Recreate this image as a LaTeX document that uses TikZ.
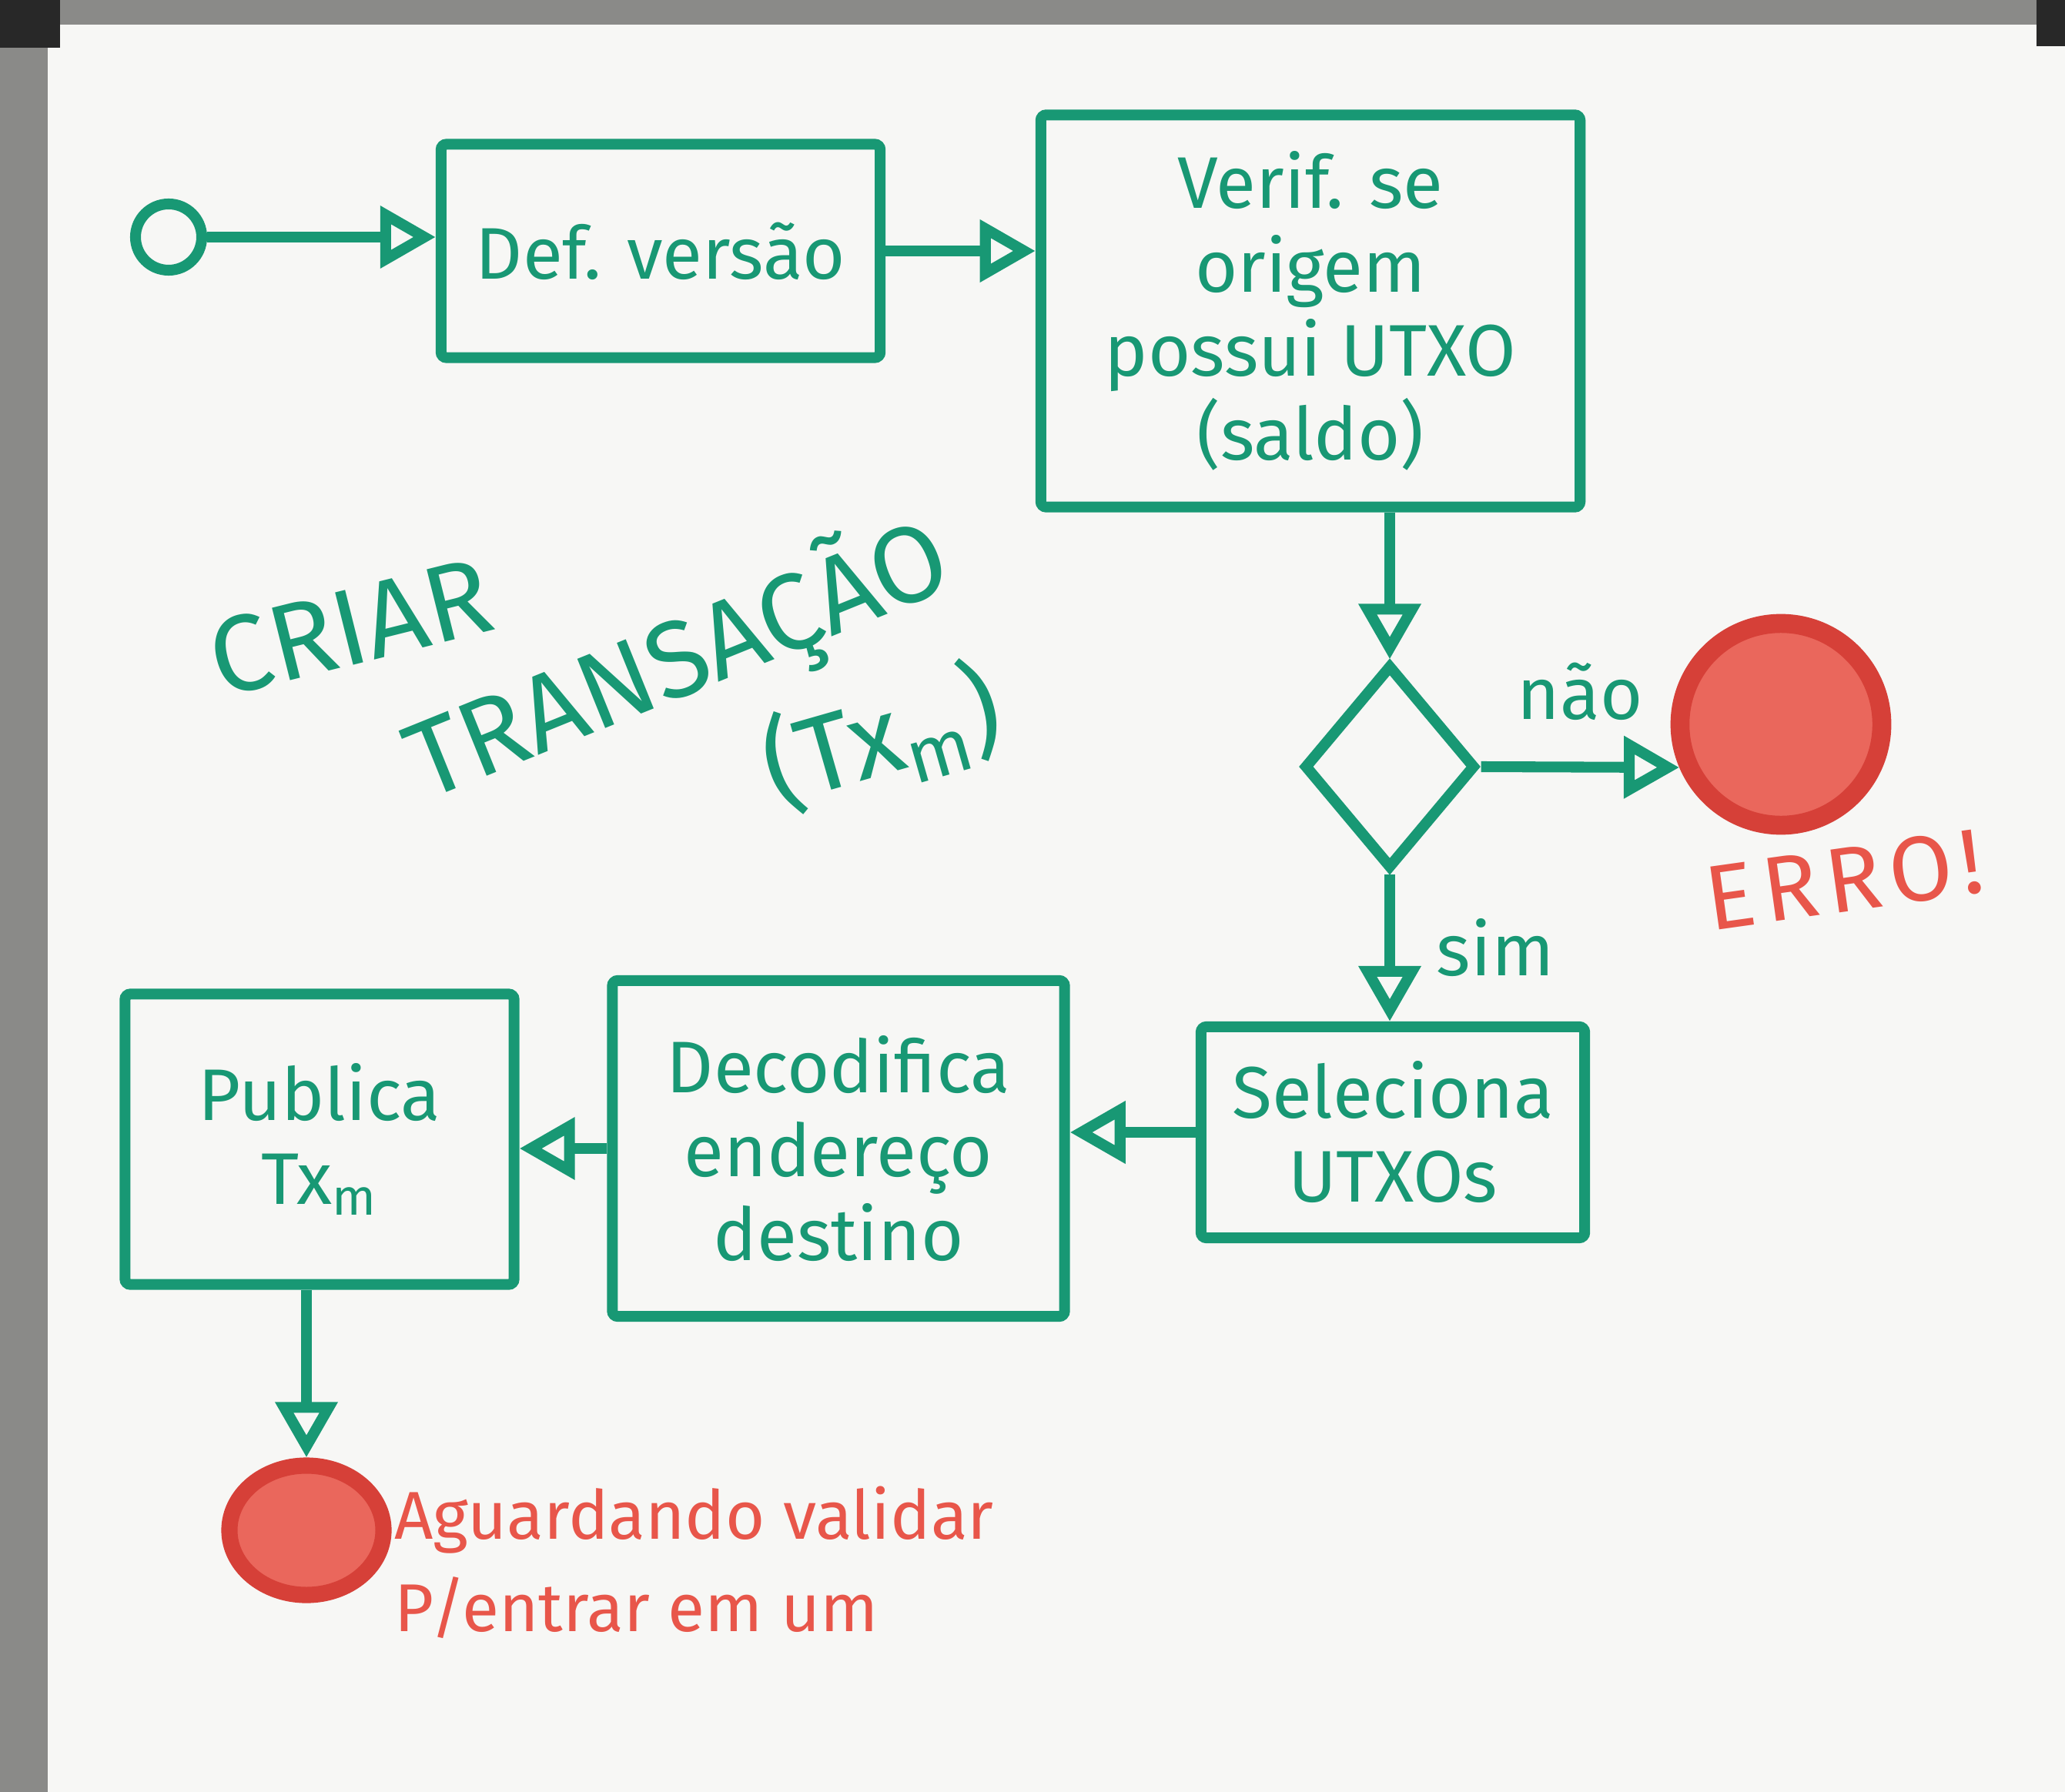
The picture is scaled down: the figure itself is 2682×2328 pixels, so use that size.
\documentclass[tikz,border=0pt]{standalone}
\usepackage{fontspec}
\setmainfont{Fira Sans}
\usetikzlibrary{arrows.meta,positioning,calc,shapes.geometric}
\definecolor{greenM}{RGB}{24,152,116}
\definecolor{redM}{RGB}{232,86,74}
\definecolor{redD}{RGB}{214,64,56}
\definecolor{boardW}{RGB}{247,247,245}
\definecolor{frameG}{RGB}{138,138,136}
\definecolor{frameD}{RGB}{40,40,40}
\newcommand{\boxfont}{\fontsize{27}{31}\selectfont}
\newcommand{\titlefont}{\fontsize{40}{46}\selectfont}
\newcommand{\notefont}{\fontsize{25}{34}\selectfont}
\tikzset{
  stepbox/.style={draw=greenM,line width=4pt,rounded corners=2pt,inner sep=0pt,align=center,font=\boxfont,text=greenM},
  choice/.style={diamond,draw=greenM,line width=4pt,inner sep=0pt,minimum width=2.23cm,minimum height=2.65cm},
  startdot/.style={circle,draw=greenM,line width=4pt,inner sep=0pt,minimum size=0.86cm},
  endblob/.style={circle,draw=redD,fill=redM!90,line width=7pt,inner sep=0pt},
  flow/.style={draw=greenM,line width=4pt,-{Triangle[open,length=0.72cm,width=0.78cm]}},
  edgelbl/.style={font=\boxfont,text=greenM},
  redtext/.style={font=\notefont,text=redM},
  titletext/.style={font=\titlefont,text=greenM,inner sep=0pt}
}
\begin{document}
\begin{tikzpicture}[x=0.01cm,y=-0.01cm]
  \useasboundingbox (0,0) rectangle (2682,2328);
  \fill[boardW] (0,0) rectangle (2682,2328);
  \fill[frameG] (0,0) rectangle (2682,32);
  \fill[frameG] (0,0) rectangle (62,2328);
  \fill[frameD] (0,0) rectangle (78,62);
  \fill[frameD] (2645,0) rectangle (2682,60);

  \node[startdot] (start) at (219,308) {};
  \node[stepbox,minimum width=5.7cm,minimum height=2.77cm] (defv) at (858,326) {Def. versão};
  \node[stepbox,minimum width=7.0cm,minimum height=5.09cm] (verif) at (1702,404) {Verif. se\\origem\\possui UTXO\\(saldo)};
  \node[choice] (check) at (1805,996) {};
  \node[endblob,minimum size=2.62cm] (erro) at (2313,941) {};
  \node[redtext,font=\fontsize{34}{40}\selectfont,rotate=8] (errolbl) at (2395,1143) {E\kern3pt R\kern3pt R\kern3pt O\kern3pt!};
  \node[stepbox,minimum width=4.98cm,minimum height=2.74cm] (sel) at (1809,1471) {Seleciona\\UTXOs};
  \node[stepbox,minimum width=5.87cm,minimum height=4.36cm] (decode) at (1089,1492) {Decodifica\\endereço\\destino};
  \node[stepbox,minimum width=5.05cm,minimum height=3.77cm] (pub) at (415,1480) {Publica\\Tx\textsubscript{m}};
  \node[ellipse,draw=redD,fill=redM!90,line width=6pt,inner sep=0pt,minimum width=2.0cm,minimum height=1.68cm] (wait) at (398,1988) {};
  \node[redtext,anchor=west,align=left] (waitlbl) at (500,2030) {Aguardando validar\\P/entrar em um};

  \node[titletext,rotate=14] (criar) at (455,815) {CRIAR};
  \node[titletext,rotate=22] (transacao) at (880,858) {TRANSAÇÃO};
  \node[titletext,rotate=16] (txm) at (1145,958) {(Tx\textsubscript{m})};

  \draw[flow] (start) -- (start -| defv.west);
  \draw[flow] (defv) -- (defv -| verif.west);
  \draw[flow] (verif.south -| check.north) -- (check.north);
  \draw[flow] (check.east) -- node[edgelbl,above=12pt] (naolbl) {não} (erro.203);
  \draw[flow] (check.south) -- node[edgelbl,right=12pt] (simlbl) {sim} (check.south |- sel.north);
  \draw[flow] (sel.west) -- (sel.west -| decode.east);
  \draw[flow] (decode.west) -- (decode.west -| pub.east);
  \draw[flow] (pub.south -| wait.north) -- (wait.north);
\end{tikzpicture}
\end{document}
